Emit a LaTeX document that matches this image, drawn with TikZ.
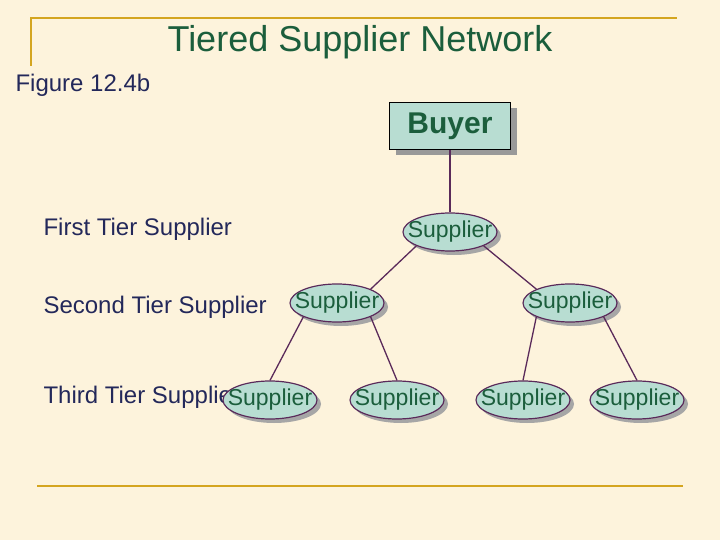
\documentclass[tikz,border=0pt]{standalone}
\usepackage{fontspec}
\setmainfont{Liberation Sans}
\usetikzlibrary{shapes.geometric,shadows}
\definecolor{bg}{HTML}{FDF3DC}
\definecolor{gold}{HTML}{D4A520}
\definecolor{fillc}{HTML}{B8DDD2}
\definecolor{txt}{HTML}{1B5E3C}
\definecolor{lab}{HTML}{23285A}
\definecolor{edge}{HTML}{5A2A5A}
\tikzset{
 sup/.style={ellipse,draw=edge,line width=1.2pt,fill=fillc,minimum width=94pt,minimum height=38pt,inner sep=0pt,
   drop shadow={shadow xshift=4pt,shadow yshift=-4pt,fill=gray!70,opacity=1},
   label={[font=\fontsize{23}{24}\selectfont,text=txt]center:Supplier}},
 buy/.style={rectangle,draw=black,line width=1.2pt,fill=fillc,minimum width=121pt,minimum height=47pt,
   font=\bfseries\fontsize{30}{31}\selectfont,text=txt,drop shadow={shadow xshift=6pt,shadow yshift=-6pt,fill=gray!80,opacity=1}},
 lbl/.style={anchor=west,font=\fontsize{24}{25}\selectfont,text=lab},
 con/.style={draw=edge,line width=1.3pt}
}
\begin{document}
\begin{tikzpicture}[x=1pt,y=-1pt]
\fill[bg] (0,0) rectangle (720,540);
\useasboundingbox (0,0) rectangle (720,540);
\draw[gold,line width=2pt] (31,66) -- (31,18) -- (677,18);
\draw[gold,line width=2pt] (37,486) -- (683,486);
\node (title) at (360,42) {\fontsize{36}{37}\selectfont\color{txt}Tiered Supplier Network};
\node[lbl] (fig) at (12,85) {Figure 12.4b};
\node[lbl] (l1) at (40,229) {First Tier Supplier};
\node[lbl] (l2) at (40,307) {Second Tier Supplier};
\node[lbl] (l3) at (40,397) {Third Tier Supplier};
\node[buy] (b) at (450,126) {Buyer};
\node[sup] (s1) at (450,232) {};
\node[sup] (s2) at (337,303) {};
\node[sup] (s3) at (570,303) {};
\node[sup] (t1) at (270,400) {};
\node[sup] (t2) at (397,400) {};
\node[sup] (t3) at (523,400) {};
\node[sup] (t4) at (637,400) {};
\draw[con] (b.south) -- (s1.north);
\draw[con] (s1.south west) -- (s2.north east);
\draw[con] (s1.south east) -- (s3.north west);
\draw[con] (s2.south west) -- (t1.north);
\draw[con] (s2.south east) -- (t2.north);
\draw[con] (s3.south west) -- (t3.north);
\draw[con] (s3.south east) -- (t4.north);
\end{tikzpicture}
\end{document}
